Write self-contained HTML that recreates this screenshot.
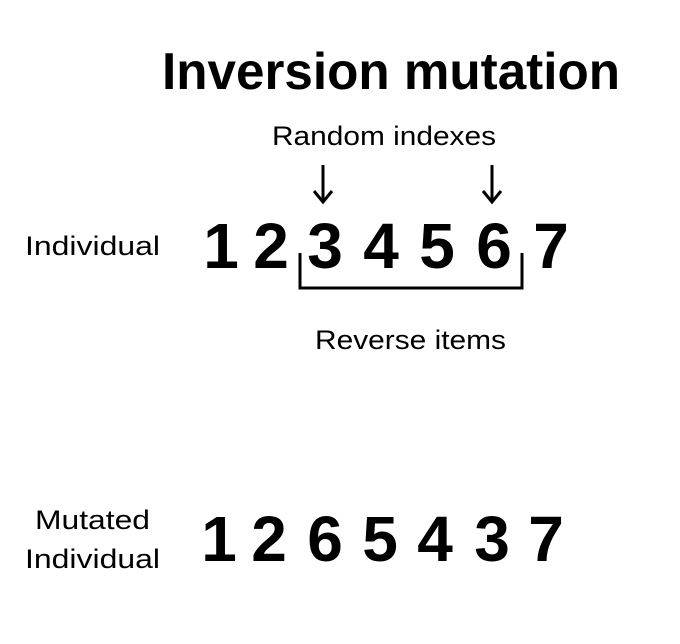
<!DOCTYPE html>
<html>
<head>
<meta charset="utf-8">
<style>
  html,body{margin:0;padding:0;background:#fff;}
  svg{display:block;}
  text{font-family:"Liberation Sans",sans-serif;fill:#000;}
  .d{font-weight:bold;font-size:64px;text-anchor:middle;}
  .l{font-size:27px;}
</style>
</head>
<body>
<svg width="680" height="644" viewBox="0 0 680 644">
  <rect width="680" height="644" fill="#fff"/>
  <text x="162" y="89" font-size="52" font-weight="bold" textLength="458" lengthAdjust="spacingAndGlyphs">Inversion mutation</text>
  <text class="l" x="272" y="145" textLength="224" lengthAdjust="spacingAndGlyphs">Random indexes</text>

  <g stroke="#000" stroke-width="3" fill="none">
    <line x1="323" y1="165" x2="323" y2="201"/>
    <polyline points="314,191 323,202 332,191"/>
    <line x1="492" y1="165" x2="492" y2="201"/>
    <polyline points="483,191 492,202 501,191"/>
  </g>

  <text class="l" x="25" y="255" textLength="135" lengthAdjust="spacingAndGlyphs">Individual</text>
  <g>
    <text class="d" x="221" y="268">1</text>
    <text class="d" x="271" y="268">2</text>
    <text class="d" x="325" y="268">3</text>
    <text class="d" x="381" y="268">4</text>
    <text class="d" x="437" y="268">5</text>
    <text class="d" x="494" y="268">6</text>
    <text class="d" x="551" y="268">7</text>
  </g>
  <polyline points="300,253 300,288 522,288 522,253" stroke="#000" stroke-width="3" fill="none"/>
  <text class="l" x="315" y="349" textLength="191" lengthAdjust="spacingAndGlyphs">Reverse items</text>

  <text class="l" x="35" y="529" textLength="115" lengthAdjust="spacingAndGlyphs">Mutated</text>
  <text class="l" x="25" y="568" textLength="135" lengthAdjust="spacingAndGlyphs">Individual</text>
  <g>
    <text class="d" x="219" y="561">1</text>
    <text class="d" x="269" y="561">2</text>
    <text class="d" x="325" y="561">6</text>
    <text class="d" x="380" y="561">5</text>
    <text class="d" x="435" y="561">4</text>
    <text class="d" x="492" y="561">3</text>
    <text class="d" x="546" y="561">7</text>
  </g>
</svg>
</body>
</html>
